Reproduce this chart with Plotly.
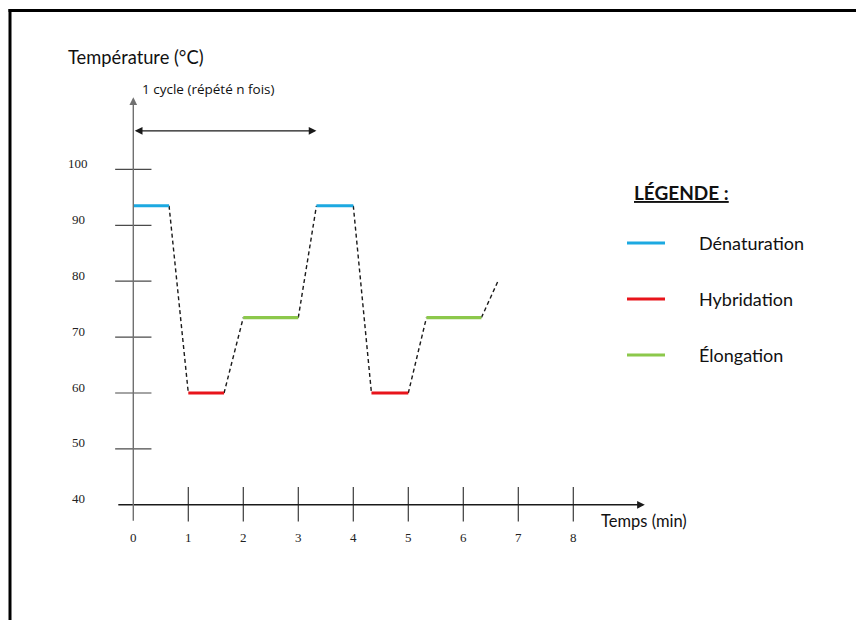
import plotly.graph_objects as go

# ---- data -------------------------------------------------------------
phases = ["Dénaturation", "Hybridation", "Élongation",
          "Dénaturation", "Hybridation", "Élongation"]
t_start = [0.0, 1.0, 2.0, 3.33, 4.33, 5.33]      # min
t_end = [0.65, 1.65, 3.0, 4.0, 5.0, 6.33]        # min
phase_temp = {"Dénaturation": 93.5, "Hybridation": 60.0, "Élongation": 73.5}
tail_point = (6.63, 80.0)                          # ramp leaving the chart

x_ticks = [0, 1, 2, 3, 4, 5, 6, 7, 8]
y_ticks = [40, 50, 60, 70, 80, 90, 100]
cycle_span = (0.0, 3.33)

colors = {"Dénaturation": "#1CA9E1", "Hybridation": "#E8141B", "Élongation": "#8CC84B"}

W, H = 856, 620
X0_PX, PX_PER_MIN = 133.3, 55.0
Y40_PX, PX_PER_DEG = 504.8, 5.59

fig = go.Figure()

# ---- axes drawn in data space ------------------------------------------
# x axis line with arrow
fig.add_annotation(x=9.3, y=40, ax=-0.3, ay=40, xref="x", yref="y", axref="x", ayref="y",
                   showarrow=True, arrowhead=2, arrowsize=1.1, arrowwidth=1.4,
                   arrowcolor="#1a1a1a", text="")
# y axis line with arrow
fig.add_annotation(x=0, y=112.9, ax=0, ay=36.9, xref="x", yref="y", axref="x", ayref="y",
                   showarrow=True, arrowhead=2, arrowsize=1.1, arrowwidth=1.4,
                   arrowcolor="#707070", text="")

# x ticks (crossing the axis)
tx, ty = [], []
for t in x_ticks[1:]:
    tx += [t, t, None]
    ty += [43.2, 37.0, None]
fig.add_trace(go.Scatter(x=tx, y=ty, mode="lines", line=dict(color="#3a3a3a", width=1.2),
                         hoverinfo="skip", showlegend=False))
# y ticks (crossing the axis)
hx, hy = [], []
for v in y_ticks[1:]:
    hx += [-0.33, 0.33, None]
    hy += [v, v, None]
fig.add_trace(go.Scatter(x=hx, y=hy, mode="lines", line=dict(color="#4a4a4a", width=1.2),
                         hoverinfo="skip", showlegend=False))

for t in x_ticks:
    fig.add_annotation(x=t, y=40, yshift=-33, text=str(t), showarrow=False,
                       font=dict(family="Liberation Serif", size=13, color="#222"))
for v in y_ticks:
    fig.add_annotation(x=-1.0, y=v, yshift=6, text=str(v), showarrow=False,
                       font=dict(family="Liberation Serif", size=13, color="#222"))

# ---- temperature profile -------------------------------------------------
# dashed ramps between plateaus
rx, ry = [], []
for i in range(len(phases)):
    nx = t_start[i + 1] if i + 1 < len(phases) else tail_point[0]
    ny = phase_temp[phases[i + 1]] if i + 1 < len(phases) else tail_point[1]
    rx += [t_end[i], nx, None]
    ry += [phase_temp[phases[i]], ny, None]
fig.add_trace(go.Scatter(x=rx, y=ry, mode="lines",
                         line=dict(color="#1a1a1a", width=1.4, dash="4px,3px"),
                         hoverinfo="skip", showlegend=False))

# plateaus
for p, a, b in zip(phases, t_start, t_end):
    fig.add_trace(go.Scatter(x=[a, b], y=[phase_temp[p], phase_temp[p]], mode="lines",
                             line=dict(color=colors[p], width=3.2),
                             hoverinfo="skip", showlegend=False))

# one-cycle double arrow
fig.add_annotation(x=cycle_span[1], y=106.9, ax=cycle_span[0], ay=106.9,
                   xref="x", yref="y", axref="x", ayref="y", showarrow=True,
                   arrowhead=2, startarrowhead=2, arrowside="end+start",
                   arrowsize=1.1, startarrowsize=1.1, arrowwidth=1.4, arrowcolor="#1a1a1a", text="")


def px(xp):
    return xp / W


def py(yp):
    return 1 - yp / H


def label(xp, yp, text, size, family="Lato"):
    fig.add_annotation(x=px(xp), y=py(yp), xref="paper", yref="paper",
                       xanchor="left", yanchor="middle", text=text, showarrow=False,
                       font=dict(family=family, size=size, color="#111"))


# ---- titles and labels ----------------------------------------------------
label(66, 57, "Température (°C)", 18.3)
label(140, 89, "1 cycle (répété n fois)", 13.5, "Open Sans")
label(599, 521, "Temps (min)", 16.5)

# ---- legend --------------------------------------------------------------
label(632, 192, "<b><u>LÉGENDE :</u></b>", 19)
for name, yp in zip(["Dénaturation", "Hybridation", "Élongation"], [243, 299, 355]):
    fig.add_shape(type="line", xref="paper", yref="paper", x0=px(627), x1=px(665),
                  y0=py(yp), y1=py(yp), line=dict(color=colors[name], width=3))
    label(697, yp, name, 18)

# ---- frame (top and left edges) -----------------------------------------
fig.add_shape(type="line", xref="paper", yref="paper", x0=px(8.5), x1=1.0,
              y0=py(10.5), y1=py(10.5), line=dict(color="black", width=3))
fig.add_shape(type="line", xref="paper", yref="paper", x0=px(10), x1=px(10),
              y0=py(9), y1=0, line=dict(color="black", width=3))

fig.update_layout(
    width=W, height=H, autosize=False,
    margin=dict(l=0, r=0, t=0, b=0),
    paper_bgcolor="white", plot_bgcolor="white",
    xaxis=dict(range=[-X0_PX / PX_PER_MIN, (W - X0_PX) / PX_PER_MIN], visible=False, fixedrange=True),
    yaxis=dict(range=[40 - (H - Y40_PX) / PX_PER_DEG, 40 + Y40_PX / PX_PER_DEG], visible=False, fixedrange=True),
    showlegend=False,
)

fig.write_html("out.html")
